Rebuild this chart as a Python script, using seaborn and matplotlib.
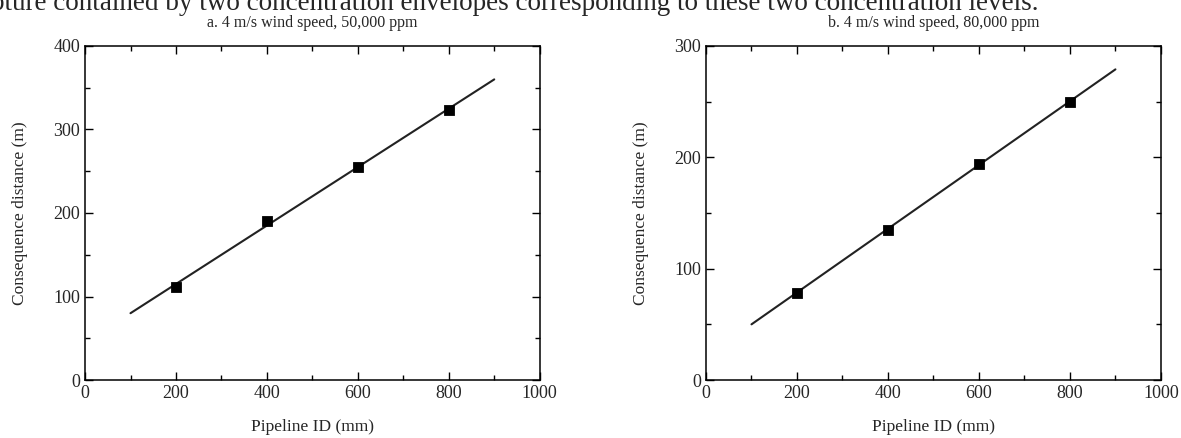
import numpy as np
import pandas as pd
import matplotlib.pyplot as plt
import seaborn as sns

# data
pipe_id = [200, 400, 600, 800]
dist_50k = [111, 190, 255, 323]
dist_80k = [78, 135, 194, 250]

# fitted straight lines (end points)
fit_x = [100, 900]
fit_50k = [80, 360]
fit_80k = [50, 279]

titles = ["a. 4 m/s wind speed, 50,000 ppm", "b. 4 m/s wind speed, 80,000 ppm"]
ylims = [400, 300]
yminor = [50, 50]

sns.set_theme(style="ticks")
plt.rcParams['font.family'] = ['Liberation Serif', 'DejaVu Serif']
plt.rcParams['xtick.direction'] = 'in'
plt.rcParams['ytick.direction'] = 'in'

fig = plt.figure(figsize=(11.81, 4.38), dpi=100)
ax1 = fig.add_axes([0.072, 0.1324, 0.385, 0.7626])
ax2 = fig.add_axes([0.5978, 0.1324, 0.3852, 0.7626])

# caption line of the page, cut off at the top of the crop
fig.text(-0.008, 0.977, "pture contained by two concentration envelopes corresponding to these two concentration levels.",
         fontsize=19.5, ha='left', va='baseline')

for ax, pts, fit, title, ymax, ym in zip([ax1, ax2], [dist_50k, dist_80k], [fit_50k, fit_80k],
                                         titles, ylims, yminor):
    sns.lineplot(x=fit_x, y=fit, ax=ax, color='#222222', linewidth=1.5)
    sns.scatterplot(x=pipe_id, y=pts, ax=ax, marker='s', s=55, color='black',
                    edgecolor='black', zorder=3)
    ax.set_xlim(0, 1000)
    ax.set_ylim(0, ymax)
    ax.set_xticks(np.arange(0, 1001, 200))
    ax.set_xticks(np.arange(100, 1000, 200), minor=True)
    ax.set_yticks(np.arange(0, ymax + 1, 100))
    ax.set_yticks(np.arange(ym, ymax, 100), minor=True)
    ax.tick_params(which='both', top=True, right=True, direction='in', labelsize=13,
                   width=1.0, color='black')
    ax.tick_params(which='major', length=6)
    ax.tick_params(which='minor', length=3.5)
    for sp in ax.spines.values():
        sp.set_visible(True)
        sp.set_linewidth(1.1)
        sp.set_color('black')
    ax.set_xlabel("Pipeline ID (mm)", fontsize=12.5, labelpad=12)
    ax.set_ylabel("Consequence distance (m)", fontsize=12.5, labelpad=18)
    ax.set_title(title, fontsize=11.5, pad=14)

fig.savefig("out.png", dpi=100)
